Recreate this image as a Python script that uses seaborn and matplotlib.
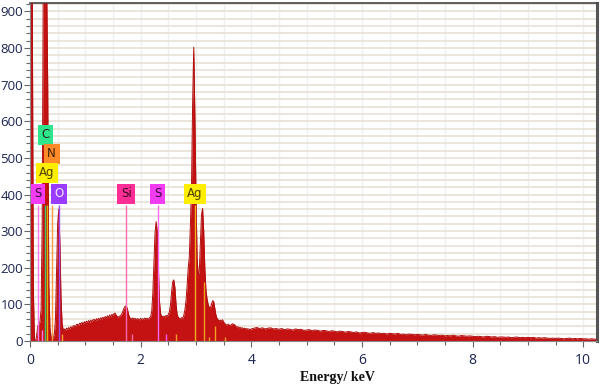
import numpy as np
import pandas as pd
import matplotlib
matplotlib.use("Agg")
import matplotlib.pyplot as plt
import seaborn as sns
from matplotlib.ticker import MultipleLocator

# ---- spectrum data (counts) ----
# region A: 0.00 - 4.00 keV, channel width 0.02 keV
counts_low = [
    1000, 1000, 1000, 150, 0, 0, 15, 40, 48, 52,          # 0.00
    85, 320, 1000, 1000, 1000, 1000, 700, 160, 35, 12,     # 0.20
    8, 10, 18, 60, 190, 320, 360, 270, 120, 48,            # 0.40
    30, 33, 29, 35, 32, 37, 33, 39, 36, 41,                # 0.60
    42, 39, 45, 46, 42, 49, 46, 51, 45, 53,                # 0.80
    49, 54, 51, 56, 50, 57, 53, 58, 59, 54,                # 1.00
    61, 57, 62, 58, 64, 59, 65, 61, 67, 62,                # 1.20
    69, 64, 71, 66, 73, 69, 75, 76, 70, 66,                # 1.40
    66, 68, 70, 74, 82, 90, 95, 96, 88, 74,                # 1.60
    64, 62, 60, 63, 59, 62, 58, 61, 60, 57,                # 1.80
    62, 59, 61, 58, 63, 60, 62, 59, 64, 66,                # 2.00
    80, 130, 210, 295, 326, 300, 200, 110, 75, 68,         # 2.20
    66, 68, 65, 70, 68, 72, 80, 100, 135, 162,             # 2.40
    167, 145, 100, 72, 65, 62, 60, 64, 62, 70,             # 2.60
    85, 110, 150, 200, 230, 320, 430, 650, 802, 620,       # 2.80
    400, 230, 180, 190, 270, 345, 362, 300, 200, 140,      # 3.00
    115, 100, 92, 90, 100, 110, 108, 90, 72, 62,           # 3.20
    58, 55, 57, 54, 58, 52, 48, 45, 43, 46,                # 3.40
    44, 42, 45, 47, 46, 44, 40, 38, 39, 36,                # 3.60
    37, 35, 36, 34, 35, 33, 34, 32, 33, 31,                # 3.80
    33,                                                    # 4.00
]
# region B: 4.05 - 10.25 keV, channel width 0.05 keV
counts_high = [
    35, 37, 34, 36, 33, 35, 36, 33, 34, 32,   # 4.05
    34, 31, 33, 32, 30, 33, 31, 32, 29, 30,   # 4.55
    31, 28, 30, 29, 27, 29, 28, 26, 28, 27,   # 5.05
    25, 27, 26, 24, 26, 25, 23, 25, 22, 23,   # 5.55
    24, 22, 21, 23, 21, 22, 20, 21, 19, 21,   # 6.05
    20, 19, 21, 18, 19, 17, 19, 18, 17, 18,   # 6.55
    17, 16, 18, 16, 15, 17, 16, 15, 16, 14,   # 7.05
    15, 14, 16, 14, 13, 15, 14, 13, 14, 13,   # 7.55
    12, 13, 12, 11, 13, 12, 11, 12, 10, 11,   # 8.05
    11, 10, 11, 9, 10, 11, 9, 10, 9, 10,      # 8.55
    9, 10, 8, 9, 8, 9, 8, 7, 8, 7,            # 9.05
    8, 7, 6, 7, 8, 6, 7, 6, 7, 6,             # 9.55
    6, 5, 6, 5, 5,                            # 10.05
]
energy_low = np.round(np.arange(len(counts_low)) * 0.02, 2)
energy_high = np.round(4.05 + np.arange(len(counts_high)) * 0.05, 2)

# ---- element identification labels ----
label_text = ["C", "N", "Ag", "S", "O", "Si", "S", "Ag"]
label_energy = [0.277, 0.392, 0.305, 0.145, 0.525, 1.740, 2.307, 2.984]
label_level = [563, 511, 459, 402, 402, 402, 402, 402]
label_face = ["#2ee58c", "#ff8a2a", "#ffee00", "#f23cf2", "#9a3cff",
              "#ff2d96", "#f23cf2", "#ffee00"]
label_textcolor = ["#1e2b1e", "#3a2000", "#4a4000", "#3a0a3a", "#f0e6ff",
                   "#3a0a20", "#3a0a3a", "#4a4000"]

# ---- element marker lines (energy, top in counts, colour) ----
marker_energy = [0.150, 0.210, 0.277, 0.305, 0.392, 0.525, 0.570,
                 1.740, 1.836, 2.307, 2.464, 2.634, 2.984, 3.151,
                 3.234, 3.348, 3.520]
marker_top = [372, 30, 372, 372, 372, 372, 20,
              372, 20, 372, 20, 20, 372, 160,
              12, 40, 10]
marker_color = ["#ff7af0", "#ff7af0", "#3cc870", "#e0b000", "#ff9a40", "#a050ff", "#ffa030",
                "#ff6ab0", "#ff6ab0", "#ff6af0", "#ff5af0", "#f0a020", "#f0b020", "#f0a020",
                "#f0a020", "#f0a020", "#f0a020"]

df = pd.DataFrame({
    "energy": np.concatenate([energy_low, energy_high]),
    "counts": np.concatenate([counts_low, counts_high]).astype(float),
})

sns.set_style("white")
plt.rcParams["font.family"] = ["Open Sans", "DejaVu Sans"]

fig = plt.figure(figsize=(6, 3.9), dpi=100)
ax = fig.add_axes([30 / 600, 1 - 341 / 390, 567 / 600, 338 / 390])

XMAX, YMAX = 10.25, 923
ax.set_xlim(0, XMAX)
ax.set_ylim(0, YMAX)

# grid
ax.xaxis.set_major_locator(MultipleLocator(2))
ax.xaxis.set_minor_locator(MultipleLocator(0.5))
ax.yaxis.set_major_locator(MultipleLocator(100))
ax.yaxis.set_minor_locator(MultipleLocator(20))
ax.grid(True, which="both", axis="y", color="#e9e3d8", lw=1.3, zorder=0)
ax.grid(True, which="both", axis="x", color="#f3eeee", lw=0.9, zorder=0)
ax.set_axisbelow(True)

# spectrum
ax.fill_between(df["energy"], 0, df["counts"], color="#c41212", lw=0, zorder=2)
sns.lineplot(data=df, x="energy", y="counts", ax=ax, color="#b00d0d",
             lw=0.7, zorder=3, legend=False)

# element lines
for e, t, c in zip(marker_energy, marker_top, marker_color):
    ax.vlines(e, 0, t, color=c, lw=1.0, zorder=4)

# element labels
for t, e, lv, fc, tc in zip(label_text, label_energy, label_level, label_face, label_textcolor):
    ax.text(e, lv, t, ha="center", va="center", fontsize=8.5, color=tc, zorder=6,
            family=["DejaVu Sans"],
            bbox=dict(boxstyle="square,pad=0.3", fc=fc, ec="none"))

# axes styling
ax.set_xticks([0, 2, 4, 6, 8, 10])
ax.set_yticks(range(0, 901, 100))
ax.tick_params(axis="both", which="major", direction="out", length=4, width=0.8,
               color="#666666", labelsize=9.5, labelcolor="#1a2550", pad=1)
ax.tick_params(axis="both", which="minor", direction="out", length=3, width=0.8,
               color="#666666")
ax.tick_params(axis="x", which="major", pad=5, labelsize=10)
ax.tick_params(axis="y", which="both", left=True)
ax.tick_params(axis="x", which="both", bottom=True)

for s in ["left", "bottom"]:
    ax.spines[s].set_color("#888888")
    ax.spines[s].set_linewidth(0.8)
ax.spines["top"].set_color("#444444")
ax.spines["top"].set_linewidth(1.2)
ax.spines["right"].set_color("#555555")
ax.spines["right"].set_linewidth(2.2)

ax.set_ylabel("")
ax.set_xlabel("Energy/ keV", family=["Liberation Serif"], fontweight="bold",
              fontsize=10, color="#111111")
ax.xaxis.set_label_coords(0.543, -0.088)

fig.savefig("out.png", dpi=100)
